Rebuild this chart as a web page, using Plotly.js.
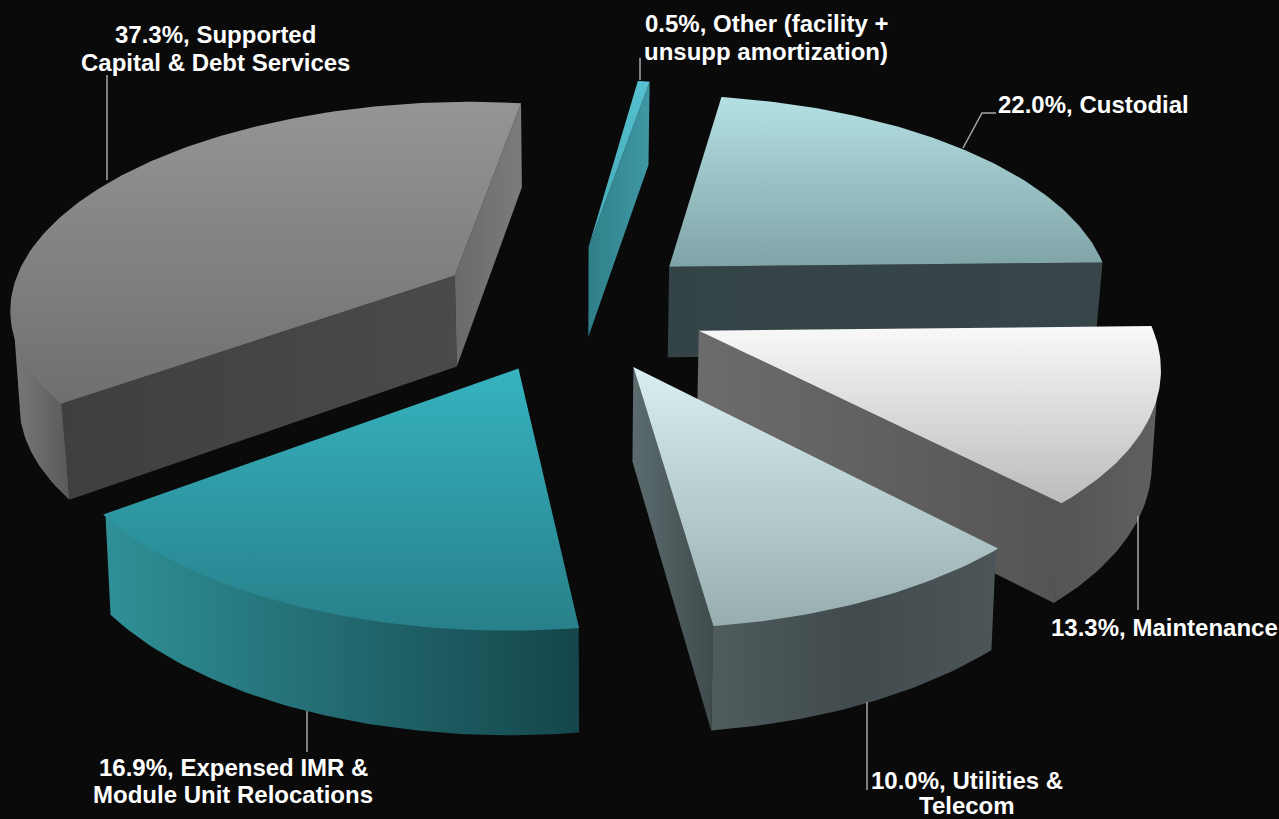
<!DOCTYPE html>
<html><head><meta charset="utf-8">
<script src="https://cdn.plot.ly/plotly-3.0.1.min.js"></script>
<style>html,body{margin:0;padding:0;background:#0a0a0a}#c{width:1279px;height:819px}</style>
</head><body><div id="c"></div>
<script>
// Data
const categories = ["Custodial","Maintenance","Utilities & Telecom","Expensed IMR & Module Unit Relocations","Supported Capital & Debt Services","Other (facility + unsupp amortization)"];
const shares = [22.0,13.3,10.0,16.9,37.3,0.5];
const labelLines = [
  ["22.0%, Custodial"],
  ["13.3%, Maintenance"],
  ["10.0%, Utilities &","Telecom"],
  ["16.9%, Expensed IMR &","Module Unit Relocations"],
  ["37.3%, Supported","Capital & Debt Services"],
  ["0.5%, Other (facility +","unsupp amortization)"]
];
// Styles and view
const pullOut = [0.29,0.295,0.31,0.316,0.315,0.30];
const pullTurn = [-1.5,1,2,0,-2,-3];
const startAngle = 9.5;
const topPlane = {cx:576, cy:306, a:206, b:447, k:0.14};
const botPlane = {cx:576, cy:398, a:214, b:440, k:0.14};
const topColors = [["#b4e0e4","#7fa3a6"],["#f9f9f9","#bbbbbb"],["#d8eef0","#98aeae"],["#36b3bf","#27808a"],["#959595","#6f6f6f"],["#55c0cf","#46a7b5"]];
const arcColors = [null,["#545454","#606060"],["#4f5b5d","#414b4d","#4c5658"],["#2f9097","#226a70","#14464a"],["#787878","#5a5a5a"],null];
const endColors = [["#344345","#384649"],["#6c6c6c","#545454"],["#5c6c6e","#3f4b4d"],null,["#6a6a6a","#7c7c7c"],["#2f7f88","#3f98a5"]];
const startColors = [null,null,null,null,["#3f3f3f","#4a4a4a"],null];
const drawOrder = [5,0,4,1,2,3];
const labelAnchors = [
  {x:1093,y:[104]},{x:1164,y:[627]},{x:967,y:[780,805]},{x:233,y:[767,794]},{x:215,y:[34,62]},{x:766,y:[23,51]}
];
const leaders = [
  "M963,148 L982,113 L996,113","M1138,516 L1138,610","M867,702 L867,790","M307,711 L307,752","M107,180 L107,75","M640,58 L640,80"
];

const rad = d => d*Math.PI/180;
function project(p,X,Y){const w=1-p.k*Y;return [p.cx+p.b*X/w,p.cy+p.a*Y/w];}
function world(i,th,r){
  const m = mids[i]+pullTurn[i];
  return [pullOut[i]*Math.sin(rad(m))+r*Math.sin(rad(th)), -pullOut[i]*Math.cos(rad(m))-r*Math.cos(rad(th))];
}
function pt(plane,i,th,r){const w=world(i,th,r);return project(plane,w[0],w[1]);}
function arc(plane,i,a0,a1,r){const n=Math.max(2,Math.ceil(Math.abs(a1-a0)));const o=[];for(let j=0;j<=n;j++)o.push(pt(plane,i,a0+(a1-a0)*j/n,r));return o;}

const starts=[],ends=[],mids=[];
let acc=startAngle;
shares.forEach(s=>{const d=s*3.6;starts.push(acc);ends.push(acc+d);mids.push(acc+d/2);acc+=d;});

function poly(points,colors,orient){
  const xs=points.map(p=>p[0]),ys=points.map(p=>p[1]);
  const vals=orient==='vertical'?ys:xs;
  const scale=colors.map((c,i)=>[i/(colors.length-1),c]);
  return {type:'scatter',mode:'lines',x:[...xs,xs[0]],y:[...ys,ys[0]],fill:'toself',line:{width:0},hoverinfo:'skip',
    fillgradient:{type:orient,colorscale:scale,start:Math.min(...vals),stop:Math.max(...vals)}};
}
const traces=[];
drawOrder.forEach(i=>{
  const s=starts[i],e=ends[i];
  if(arcColors[i]){
    let a0=s,a1=e;
    if(i===4){a1=256;}
    if(i===1){a0=103;}
    const t=arc(topPlane,i,a0,a1,0.995),b=arc(botPlane,i,a0,a1,1).reverse();
    traces.push(poly([...t,...b],arcColors[i],'horizontal'));
  }
  [[startColors[i],s],[endColors[i],e]].forEach(([c,th])=>{
    if(!c)return;
    traces.push(poly([pt(topPlane,i,th,0),pt(topPlane,i,th,1),pt(botPlane,i,th,1),pt(botPlane,i,th,0)],c,'horizontal'));
  });
  traces.push(poly([pt(topPlane,i,s,0),...arc(topPlane,i,s,e,1)],topColors[i],'vertical'));
});

const annotations=[];
labelLines.forEach((ls,i)=>ls.forEach((t,j)=>annotations.push({
  text:t,x:labelAnchors[i].x,y:labelAnchors[i].y[j],xref:'x',yref:'y',xanchor:'center',yanchor:'middle',showarrow:false,
  font:{family:'"Liberation Sans",Arial,sans-serif',size:24,color:'#ffffff',weight:700}
})));
const shapes=leaders.map(path=>({type:'path',path,xref:'x',yref:'y',line:{color:'#a8a8a8',width:1.5}}));

Plotly.newPlot('c',traces,{
  width:1279,height:819,margin:{l:0,r:0,t:0,b:0},paper_bgcolor:'#0a0a0a',plot_bgcolor:'#0a0a0a',showlegend:false,
  xaxis:{range:[0,1279],visible:false,fixedrange:true},
  yaxis:{range:[819,0],visible:false,fixedrange:true},
  annotations,shapes
},{displayModeBar:false,staticPlot:true});
</script></body></html>
